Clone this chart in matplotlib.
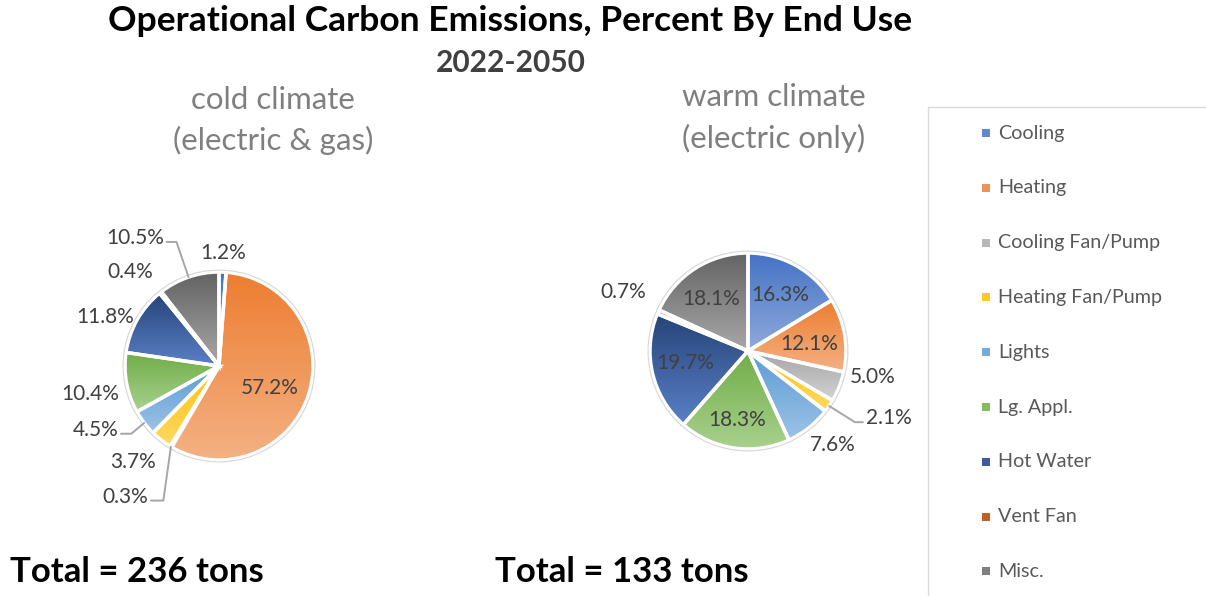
import numpy as np
import matplotlib
matplotlib.use("Agg")
import matplotlib.pyplot as plt
from matplotlib.colors import LinearSegmentedColormap, to_rgb
from matplotlib.patches import Rectangle, Circle

# ---------------- data ----------------
categories = ["Cooling", "Heating", "Cooling Fan/Pump", "Heating Fan/Pump",
              "Lights", "Lg. Appl.", "Hot Water", "Vent Fan", "Misc."]
cold_values = [1.2, 57.2, 0.3, 3.7, 4.5, 10.4, 11.8, 0.4, 10.5]
warm_values = [16.3, 12.1, 5.0, 2.1, 7.6, 18.3, 19.7, 0.7, 18.1]
cold_total = 236
warm_total = 133

title = "Operational Carbon Emissions, Percent By End Use"
subtitle = "2022-2050"
cold_title = ["cold climate", "(electric & gas)"]
warm_title = ["warm climate", "(electric only)"]

# ---------------- styles ----------------
top_colors = ["#4472C4", "#ED7D31", "#A5A5A5", "#FFC000", "#5B9BD5",
              "#70AD47", "#264478", "#A64C10", "#636363"]
bottom_colors = ["#8FAADC", "#F4B183", "#D3D3D3", "#FFD966", "#9DC3E6",
                 "#A9D18E", "#5B80C8", "#E0844A", "#A8A8A8"]

# label layout: (angle offset from wedge middle in deg, distance in radii, leader angle or None)
cold_layout = [(0.2, 1.20, None), (-6.0, 0.59, None), (-4.9, 1.71, -98),
               (-3.9, 1.37, None), (-10.0, 1.48, -140), (1.8, 1.40, None),
               (6.2, 1.32, None), (4.9, 1.38, None), (14.4, 1.63, 109)]
warm_layout = [(-0.8, 0.66, None), (-3.0, 0.63, None), (9.5, 1.30, None),
               (8.6, 1.59, -32), (3.6, 1.29, None), (-0.6, 0.71, None),
               (-2.6, 0.65, None), (-1.9, 1.41, None), (2.2, 0.65, None)]

W, H = 1206, 596
FONT = "Lato"
plt.rcParams["font.family"] = [FONT, "DejaVu Sans"]

fig = plt.figure(figsize=(W / 100, H / 100), dpi=100)
fig.patch.set_facecolor("white")

LABEL_SIZE = 15


def fx(px):
    return px / W


def fy(py):
    return 1 - py / H


def draw_pie(cx, cy, radius, values, layout):
    # axes 400x400 px centred on (cx, cy); 1 data unit = 100 px
    ax = fig.add_axes([fx(cx - 200), fy(cy + 200), 400 / W, 400 / H])
    ax.axis("off")
    wedges, _ = ax.pie(values, radius=radius, startangle=90, counterclock=False,
                       wedgeprops=dict(edgecolor="white", linewidth=2.5))
    grad = np.linspace(0, 1, 256).reshape(-1, 1)
    for w, c0, c1 in zip(wedges, top_colors, bottom_colors):
        th = np.radians(np.linspace(w.theta1, w.theta2, 200))
        ys = np.concatenate([[0.0], radius * np.sin(th)])
        ymin, ymax = ys.min(), ys.max()
        cmap = LinearSegmentedColormap.from_list("g", [c0, c1])
        im = ax.imshow(grad, cmap=cmap, extent=(-radius, radius, ymin, ymax),
                       origin="upper", aspect="auto", zorder=2,
                       interpolation="bilinear")
        im.set_clip_path(w)
        w.set_facecolor("none")
        w.set_zorder(3)
    ax.add_patch(Circle((0, 0), radius + 0.019, fill=False, ec="#D6D6D6",
                        lw=0.8, zorder=4))
    for w, v, (off, dist, lead) in zip(wedges, values, layout):
        mid = (w.theta1 + w.theta2) / 2
        a = np.radians(mid + off)
        tx, ty = dist * radius * np.cos(a), dist * radius * np.sin(a)
        txt = f"{v:.1f}%"
        if lead is None:
            ax.text(tx, ty, txt, ha="center", va="center", fontsize=LABEL_SIZE,
                    color="#404040", zorder=5)
        else:
            m = np.radians(mid)
            ex, ey = radius * np.cos(m), radius * np.sin(m)
            rel = (1, 0.3) if tx < ex else (0, 0.3)
            ax.annotate(txt, xy=(ex, ey), xytext=(tx, ty), ha="center",
                        va="center", fontsize=LABEL_SIZE, color="#404040", zorder=5,
                        arrowprops=dict(arrowstyle="-", color="#A6A6A6", lw=1.4,
                                        shrinkA=0, shrinkB=0, relpos=rel,
                                        connectionstyle=f"angle,angleA=0,angleB={lead},rad=0"))
    ax.set_xlim(-2, 2)
    ax.set_ylim(-2, 2)
    ax.set_aspect("equal")
    return ax


draw_pie(219, 366, 0.94, cold_values, cold_layout)
draw_pie(748, 351, 0.98, warm_values, warm_layout)

# titles
fig.text(fx(510), fy(21), title, ha="center", va="center", fontsize=25.5,
         fontweight="bold", color="black")
fig.text(fx(511), fy(63), subtitle, ha="center", va="center", fontsize=21.5,
         fontweight="bold", color="#404040")
fig.text(fx(273), fy(100), cold_title[0], ha="center", va="center", fontsize=22.5,
         color="#7F7F7F")
fig.text(fx(273), fy(140), cold_title[1], ha="center", va="center", fontsize=22.5,
         color="#7F7F7F")
fig.text(fx(774), fy(97), warm_title[0], ha="center", va="center", fontsize=22.5,
         color="#7F7F7F")
fig.text(fx(774), fy(138), warm_title[1], ha="center", va="center", fontsize=22.5,
         color="#7F7F7F")

# totals
fig.text(fx(10), fy(572), f"Total = {cold_total} tons", ha="left", va="center",
         fontsize=25, fontweight="bold", color="black")
fig.text(fx(495), fy(572), f"Total = {warm_total} tons", ha="left", va="center",
         fontsize=25, fontweight="bold", color="black")

# legend box
fig.patches.append(Rectangle((fx(928), fy(610)), fx(1215) - fx(928), fy(107) - fy(610),
                             transform=fig.transFigure, fill=True, fc="white",
                             ec="#D9D9D9", lw=1.0, zorder=1))
for i, (cat, c0, c1) in enumerate(zip(categories, top_colors, bottom_colors)):
    yc = 133 + i * 54.8
    mix = 0.6 * np.array(to_rgb(c0)) + 0.4 * np.array(to_rgb(c1))
    fig.patches.append(Rectangle((fx(982), fy(yc + 4)), 8 / W, 8 / H,
                                 transform=fig.transFigure, fc=mix, ec="none",
                                 zorder=2))
    fig.text(fx(998), fy(yc), cat, ha="left", va="center", fontsize=14.2,
             color="#595959", zorder=3)

fig.savefig("out.png", dpi=100, facecolor="white")
